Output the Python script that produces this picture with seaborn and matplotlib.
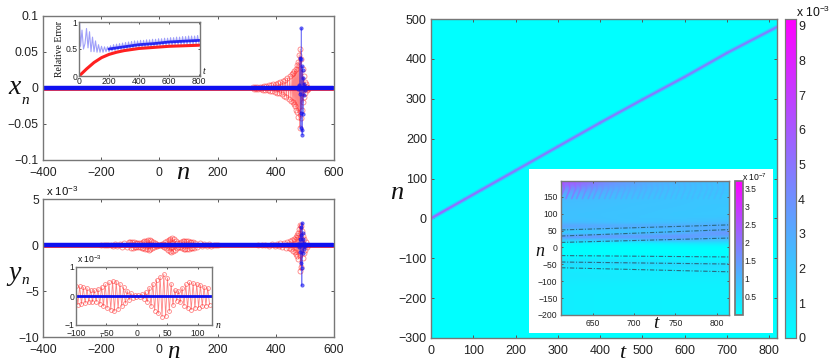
import numpy as np
import matplotlib
matplotlib.use('Agg')
import matplotlib.pyplot as plt
import seaborn as sns
from matplotlib.patches import Rectangle

W, H = 831, 364

# -----------------------------
# Data
# -----------------------------
base_n = [-400, -200, 0, 200, 400, 600]
base_y = [0, 0, 0, 0, 0, 0]

# x_n, red
xr_vals = [.0008, -.001, .001, -.0012, .0013, -.0015, .0016, -.0018, .002, -.0022, .0025, -.0027,
           .003, -.0032, .0035, -.0038, .004, -.0045, .005, -.0055, .006, -.0065, .007, -.0075,
           .008, -.0088, .0095, -.0105, .0115, -.0125, .0135, -.015, .016, -.0175, .019,
           -.020, .021, -.022, .024, -.025, .027, -.03, .032, -.034, .036, -.04, .046, -.055,
           .054, -.042, .04, -.03, .026, -.02, .016, -.012, .009, -.007, .005, -.003, .002, -.001, .0005]
xr_n = list(range(320, 460, 4)) + list(range(458, 514, 2))

# x_n, blue
xb_n = [476, 478, 480, 482, 484, 485, 486, 487, 488, 489, 490, 491, 492, 493, 494, 496, 498, 500, 502]
xb_vals = [.001, -.002, .004, -.008, .042, -.056, .04, -.035, .083, -.058, .03, -.065, .025, -.036,
           .014, -.01, .006, -.003, .001]

# y_n, red (units of 1e-3)
yc_vals = [.35, -.3, .33, -.28, .3, -.25, .27, -.22, .22, -.2, .2, -.2, .25, -.28, .32, -.35, .4, -.42,
           .47, -.48, .52, -.52, .5, -.45, .42, -.36, .3, -.25, .18, -.14, .1, -.06, .04, -.02, .02,
           -.04, .07, -.1, .14, -.2, .28, -.35, .42, -.5, .56, -.6, .66, -.72, .75, -.7, .62, -.52,
           .42, -.32, .22, -.17, .18, -.22, .28, -.33, .4, -.43, .47, -.47, .45, -.42, .42, -.4, .38,
           -.35, .32, -.33, .28, -.3]
yl_n = [-200, -192, -184, -176, -168, -160, -152, -144, -136, -128, -120, -112, -104]
yl_vals = [.01, -.02, .03, -.04, .05, -.07, .09, -.11, .14, -.17, .2, -.25, .3]
yh_n = [122, 130, 138, 146, 154, 162, 170, 178, 186, 194, 202]
yh_vals = [.27, -.22, .2, -.16, .13, -.1, .08, -.06, .04, -.02, .01]
yr_n = [340, 352, 364, 376, 388, 396, 404, 410, 416, 422, 428, 434, 440, 444, 448, 452, 456, 459, 462,
        465, 468, 470, 472, 474, 476, 478, 480, 482, 484, 486, 488, 490, 492, 494, 496, 498, 500, 503,
        506, 510]
yr_vals = [.02, -.03, .05, -.07, .09, -.11, .14, -.16, .19, -.22, .25, -.28, .32, -.36, .42, -.48, .55,
           -.62, .7, -.8, .9, -1.0, 1.1, -1.2, 1.3, -1.5, 1.7, 2.2, -2.8, 2.1, -2.4, 1.5, -1.4, 1.0,
           -.9, .7, -.5, .3, -.2, .05]
yb_n = [478, 480, 482, 484, 486, 487, 488, 489, 490, 491, 492, 493, 494, 496, 498, 500]
yb_vals = [.1, -.2, .7, -.8, 2.0, -2.0, 1.1, -4.4, 2.4, -2.5, 1.3, -.9, .6, -.4, .2, -.1]

# Relative error inset
err_red_t = [0, 20, 50, 100, 150, 200, 250, 300, 400, 500, 600, 700, 800]
err_red = [0, .05, .13, .25, .34, .40, .44, .47, .51, .53, .55, .56, .57]
err_blue_t = [0, 4, 10, 20, 30, 40, 50, 60, 70, 80, 90, 100, 110, 120, 130, 140, 150, 160, 170, 180,
              190, 200, 210, 220, 230, 240, 250, 260, 270, 280, 290, 300, 310, 320, 330, 340, 350, 360,
              370, 380, 390, 400, 410, 420, 430, 440, 450, 460, 470, 480, 490, 500, 510, 520, 530, 540,
              550, 560, 570, 580, 590, 600, 610, 620, 630, 640, 650, 660, 670, 680, 690, 700, 710, 720,
              730, 740, 750, 760, 770, 780, 790, 800]
err_blue = [0, 1, .55, .85, .5, .6, .88, .52, .82, .45, .72, .45, .65, .44, .58, .44, .55, .44, .54, .45,
            .54, .45, .56, .46, .58, .47, .59, .48, .60, .49, .61, .50, .62, .50, .63, .51, .64, .51,
            .65, .52, .65, .52, .66, .53, .66, .53, .67, .54, .67, .54, .68, .54, .68, .55, .69, .55,
            .69, .55, .70, .56, .70, .56, .71, .56, .71, .57, .72, .57, .72, .57, .73, .58, .73, .58,
            .74, .58, .74, .58, .74, .59, .75, .59]
err_mid_t = [200, 300, 400, 500, 600, 700, 806]
err_mid = [.50, .54, .58, .60, .63, .645, .66]

# Main field
field_bg = [[0, 0], [0, 0]]
ridge_t = [0, 40, 80, 120, 200, 300, 400, 500, 600, 700, 818]
ridge_n = [0, 24, 48, 72, 120, 180, 240, 298, 355, 415, 480]
ridge_val = [5.8, 5.5, 5.3, 5.2, 5.0, 5.0, 5.0, 5.0, 4.9, 4.8, 4.8]  # x 1e-3

# Inset field (x 1e-7), rows n = 195 ... -195 every 10, columns over t
inset_field = [
    [2.4, 1.7, 1.35, 1.15, 1.0, .95],
    [2.0, 1.5, 1.2, 1.05, .95, .9],
    [1.6, 1.25, 1.1, 1.0, .9, .9],
    [1.3, 1.1, 1.0, .95, .9, .85],
    [1.1, 1.0, .95, .9, .85, .85],
    [1.0, .95, .9, .9, .85, .85],
    [.95, .92, .9, .88, .85, .85],
    [.95, .9, .88, .86, .85, .82],
    [.92, .9, .88, .85, .85, .82],
    [.9, .88, .86, .85, .82, .82],
    [.9, .88, .85, .85, .82, .82],
    [.9, .9, .85, .85, .85, .9],
    [1.0, .95, .9, .95, .95, 1.05],
    [1.4, 1.35, 1.3, 1.25, 1.25, 1.25],
    [1.0, 1.0, .95, 1.0, 1.05, 1.15],
    [.6, .7, .75, .9, 1.05, 1.65],
    [1.7, 1.7, 1.6, 1.6, 1.65, 1.2],
    [.9, .9, 1.0, 1.1, 1.2, .9],
    [.1, .15, .15, .25, .35, .45],
    [.02, .02, .03, .04, .05, .06],
    [0, 0, 0, 0, 0, 0],
    [0, 0, 0, 0, 0, 0],
    [.08, .08, .08, .08, .08, .08],
    [.3, .3, .28, .25, .2, .15],
    [.6, .6, .6, .55, .5, .42],
    [.35, .38, .42, .48, .52, .52],
    [.28, .25, .25, .25, .3, .35],
    [.35, .32, .3, .3, .32, .34],
    [.35, .33, .3, .28, .28, .28],
    [.3, .3, .28, .26, .25, .24],
    [.28, .26, .25, .24, .22, .22],
    [.26, .25, .24, .22, .22, .2],
    [.25, .24, .22, .22, .2, .2],
    [.25, .22, .22, .2, .2, .2],
    [.25, .22, .22, .2, .2, .2],
    [.25, .22, .22, .2, .2, .2],
    [.25, .22, .22, .2, .2, .2],
    [.25, .22, .22, .2, .2, .2],
    [.25, .22, .22, .2, .2, .2],
    [.25, .22, .22, .2, .2, .2],
]
fringe_t = [613, 620, 627, 633, 640, 647, 653, 660, 667, 673, 680, 687, 693, 700, 707, 713, 720, 727,
            733, 740, 747, 753, 760, 767, 773, 780, 787, 793, 800, 807]
fringe_val = [2.7, 2.6, 2.4, 2.2, 2.0, 1.9, 1.8, 1.7, 1.6, 1.5, 1.45, 1.4, 1.35, 1.3, 1.3, 1.25, 1.25,
              1.2, 1.2, 1.2, 1.15, 1.15, 1.15, 1.1, 1.1, 1.1, 1.1, 1.1, 1.1, 1.1]
path_t = [[611, 815], [611, 815], [611, 815], [611, 815], [611, 815], [611, 815]]
path_n = [[52, 67], [34, 53], [15, 28], [-24, -28], [-43, -49], [-60, -72]]


# -----------------------------
# Helpers
# -----------------------------
sns.set_theme(style='white', rc={'axes.edgecolor': '#777777', 'xtick.bottom': True, 'ytick.left': True})
plt.rcParams['font.family'] = ['Liberation Sans', 'DejaVu Sans']
plt.rcParams['mathtext.fontset'] = 'custom'
plt.rcParams['mathtext.rm'] = 'Liberation Sans'
plt.rcParams['mathtext.default'] = 'regular'

fig = plt.figure(figsize=(W / 100, H / 100), dpi=100, facecolor='white')


def box(l, t, r, b, **kw):
    return fig.add_axes([l / W, 1 - b / H, (r - l) / W, (b - t) / H], **kw)


def style(ax, size, length=2.5, xpad=5, ypad=3):
    ax.tick_params(direction='in', top=True, right=True, labelsize=size, length=length, width=.7,
                   color='#555555', labelcolor='#222222')
    ax.tick_params(axis='x', pad=xpad)
    ax.tick_params(axis='y', pad=ypad)
    for s in ax.spines.values():
        s.set_visible(True)
        s.set_linewidth(1)
        s.set_color('#777777')


def label(x, y, s, size, **kw):
    fig.text(x / W, 1 - y / H, s, fontsize=size, ha='center', va='center', color='#111111', zorder=5, **kw)


def serif(x, y, s, size):
    label(x, y, s, size, family='Liberation Serif', style='italic')


def stems(ax, n, v, color, ms=3.6, lw=.6, filled=False):
    sns.lineplot(x=n, y=v, ax=ax, sort=False, estimator=None, color=color, lw=lw, alpha=.55,
                 marker='o', markersize=ms, markerfacecolor=color if filled else 'none',
                 markeredgecolor=color, markeredgewidth=.6, legend=False)


RED = '#ff2020'
BLUE = '#1010f0'

# -----------------------------
# x_n
# -----------------------------
ax1 = box(43, 16, 334, 160)
stems(ax1, xr_n, xr_vals, RED)
sns.lineplot(x=base_n, y=base_y, ax=ax1, color=RED, lw=3.4)
stems(ax1, xb_n, xb_vals, BLUE, ms=2.4, lw=.8, filled=True)
sns.lineplot(x=[-400, 598], y=[0, 0], ax=ax1, color=BLUE, lw=3.2)
ax1.set_xlim(-400, 600)
ax1.set_ylim(-.1, .1)
ax1.set_xticks([-400, -200, 0, 200, 400, 600])
ax1.set_xticklabels(['\u2212400', '\u2212200', '0', '200', '400', '600'])
ax1.set_yticks([-.1, -.05, 0, .05, .1])
ax1.set_yticklabels(['\u22120.1', '\u22120.05', '0', '0.05', '0.1'])
ax1.set_xlabel('')
ax1.set_ylabel('')
style(ax1, 8.7)

# relative error
ax1i = box(79, 22, 200, 76)
sns.lineplot(x=err_blue_t, y=err_blue, ax=ax1i, sort=False, estimator=None, color=BLUE, lw=.8, alpha=.4)
sns.lineplot(x=err_mid_t, y=err_mid, ax=ax1i, color=BLUE, lw=2, alpha=.85)
sns.lineplot(x=err_red_t, y=err_red, ax=ax1i, color=RED, lw=2.2)
ax1i.set_xlim(0, 806)
ax1i.set_ylim(0, 1)
ax1i.set_xticks([0, 200, 400, 600, 800])
ax1i.set_yticks([0, .5, 1])
ax1i.set_yticklabels(['0', '0.5', '1'])
ax1i.set_xlabel('')
ax1i.set_ylabel('')
style(ax1i, 6.2, 1.5, xpad=1, ypad=1)
label(60, 49, 'Relative Error', 7, rotation=90, family='Liberation Serif')
serif(204, 72, 't', 7)

# -----------------------------
# y_n
# -----------------------------
yc_n = list(range(-100, -100 + 3 * len(yc_vals), 3))
ax2 = box(43, 199, 334, 337)
stems(ax2, yl_n + yc_n + yh_n, yl_vals + yc_vals + yh_vals, RED)
stems(ax2, yr_n, yr_vals, RED)
sns.lineplot(x=base_n, y=base_y, ax=ax2, color=RED, lw=3.4)
stems(ax2, yb_n, yb_vals, BLUE, ms=2.4, lw=.8, filled=True)
sns.lineplot(x=[-400, 598], y=[0, 0], ax=ax2, color=BLUE, lw=3.2)
ax2.set_xlim(-400, 600)
ax2.set_ylim(-10, 5)
ax2.set_xticks([-400, -200, 0, 200, 400, 600])
ax2.set_xticklabels(['\u2212400', '\u2212200', '0', '200', '400', '600'])
ax2.set_yticks([-10, -5, 0, 5])
ax2.set_yticklabels(['\u221210', '\u22125', '0', '5'])
ax2.set_xlabel('')
ax2.set_ylabel('')
style(ax2, 8.7)
label(62, 191, 'x 10$^{-3}$', 8.2)

# centre zoom
ax2i = box(76, 267, 212, 325)
stems(ax2i, yc_n, yc_vals, RED, ms=2.8)
sns.lineplot(x=[-100, 123], y=[0, 0], ax=ax2i, color=BLUE, lw=2)
ax2i.set_xlim(-100, 123)
ax2i.set_ylim(-1, 1)
ax2i.set_xticks([-100, -50, 0, 50, 100])
ax2i.set_xticklabels(['\u2212100', '\u221250', '0', '50', '100'])
ax2i.set_yticks([-1, 0, 1])
ax2i.set_yticklabels(['\u22121', '0', '1'])
ax2i.set_xlabel('')
ax2i.set_ylabel('')
style(ax2i, 6.2, 1.5, xpad=3, ypad=1)
label(89, 259, 'x 10$^{-3}$', 6.2)
serif(218, 325, 'n', 7)

# -----------------------------
# Main field
# -----------------------------
cax = box(785, 19, 796, 338)
ax3_bg = box(431, 19, 777, 338)
sns.heatmap(field_bg, ax=ax3_bg, cmap='cool', vmin=0, vmax=9.2, cbar_ax=cax, xticklabels=False, yticklabels=False)
cax.set_yticks(range(10))
cax.tick_params(direction='in', left=True, right=True, labelsize=9, length=2.5, width=.7, color='#555555',
                labelcolor='#222222', pad=1.5)
for s in cax.spines.values():
    s.set_visible(True)
    s.set_color('#777777')
    s.set_linewidth(.8)
label(813, 12, 'x 10$^{-3}$', 8.7)

ax3 = box(431, 19, 777, 338, facecolor='none')
cool = plt.get_cmap('cool')
for i in range(len(ridge_t) - 1):
    seg_t, seg_n = ridge_t[i:i + 2], ridge_n[i:i + 2]
    sns.lineplot(x=seg_t, y=seg_n, ax=ax3, color=cool(ridge_val[i] * .45 / 9.2), lw=3)
for i in range(len(ridge_t) - 1):
    seg_t, seg_n = ridge_t[i:i + 2], ridge_n[i:i + 2]
    sns.lineplot(x=seg_t, y=seg_n, ax=ax3, color=cool(ridge_val[i] / 9.2), lw=1.2)
ax3.set_xlim(0, 818)
ax3.set_ylim(-300, 500)
ax3.set_xticks(range(0, 900, 100))
ax3.set_yticks(range(-300, 600, 100))
ax3.set_yticklabels(['\u2212300', '\u2212200', '\u2212100', '0', '100', '200', '300', '400', '500'])
ax3.set_xlabel('')
ax3.set_ylabel('')
style(ax3, 9)

# white panel behind the inset
fig.add_artist(Rectangle((529 / W, 1 - 333 / H), 244 / W, 164 / H, transform=fig.transFigure,
                         facecolor='white', edgecolor='none', zorder=2))

# -----------------------------
# Inset field
# -----------------------------
ax4 = box(561, 181, 729, 315)
ax4.set_zorder(3)
im = ax4.imshow(inset_field, cmap='cool', vmin=0, vmax=3.7, aspect='auto', interpolation='bicubic',
                extent=[611, 815, -200, 197])
for t, v in zip(fringe_t, fringe_val):
    sns.lineplot(x=[t, t + 2, t - 3], y=[197, 175, 145], ax=ax4, sort=False, estimator=None,
                 color=cool(v / 3.7), lw=1.2, alpha=.5)
for pt, pn in zip(path_t, path_n):
    sns.lineplot(x=pt, y=pn, ax=ax4, color='#2a6a80', lw=.8, linestyle=(0, (4, 1.5, 1, 1.5)))
ax4.set_xlim(611, 815)
ax4.set_ylim(-200, 197)
ax4.set_xticks([650, 700, 750, 800])
ax4.set_yticks([-200, -150, -100, -50, 0, 50, 100, 150])
ax4.set_yticklabels(['\u2212200', '\u2212150', '\u2212100', '\u221250', '0', '50', '100', '150'])
ax4.set_xlabel('')
ax4.set_ylabel('')
style(ax4, 6.2, 1.5, xpad=3, ypad=2.5)

cax4 = box(735, 181, 743, 315)
cax4.set_zorder(3)
cb4 = fig.colorbar(im, cax=cax4)
cb4.set_ticks([.5, 1, 1.5, 2, 2.5, 3, 3.5])
cb4.set_ticklabels(['0.5', '1', '1.5', '2', '2.5', '3', '3.5'])
cb4.outline.set_edgecolor('#777777')
cax4.tick_params(direction='in', labelsize=6.2, length=1.5, width=.6, color='#555555', labelcolor='#222222', pad=1)
label(755, 177, 'x 10$^{-7}$', 6.2)

# axis letters
serif(15, 87, 'x', 20)
serif(25, 100, 'n', 11)
serif(183, 173, 'n', 19)
serif(15, 273, 'y', 20)
serif(25, 280, 'n', 11)
serif(173, 352, 'n', 18)
serif(397, 193, 'n', 19)
serif(622, 353, 't', 16)
serif(540, 251, 'n', 13)
serif(656, 324, 't', 14)

fig.savefig('out.png', dpi=100)
